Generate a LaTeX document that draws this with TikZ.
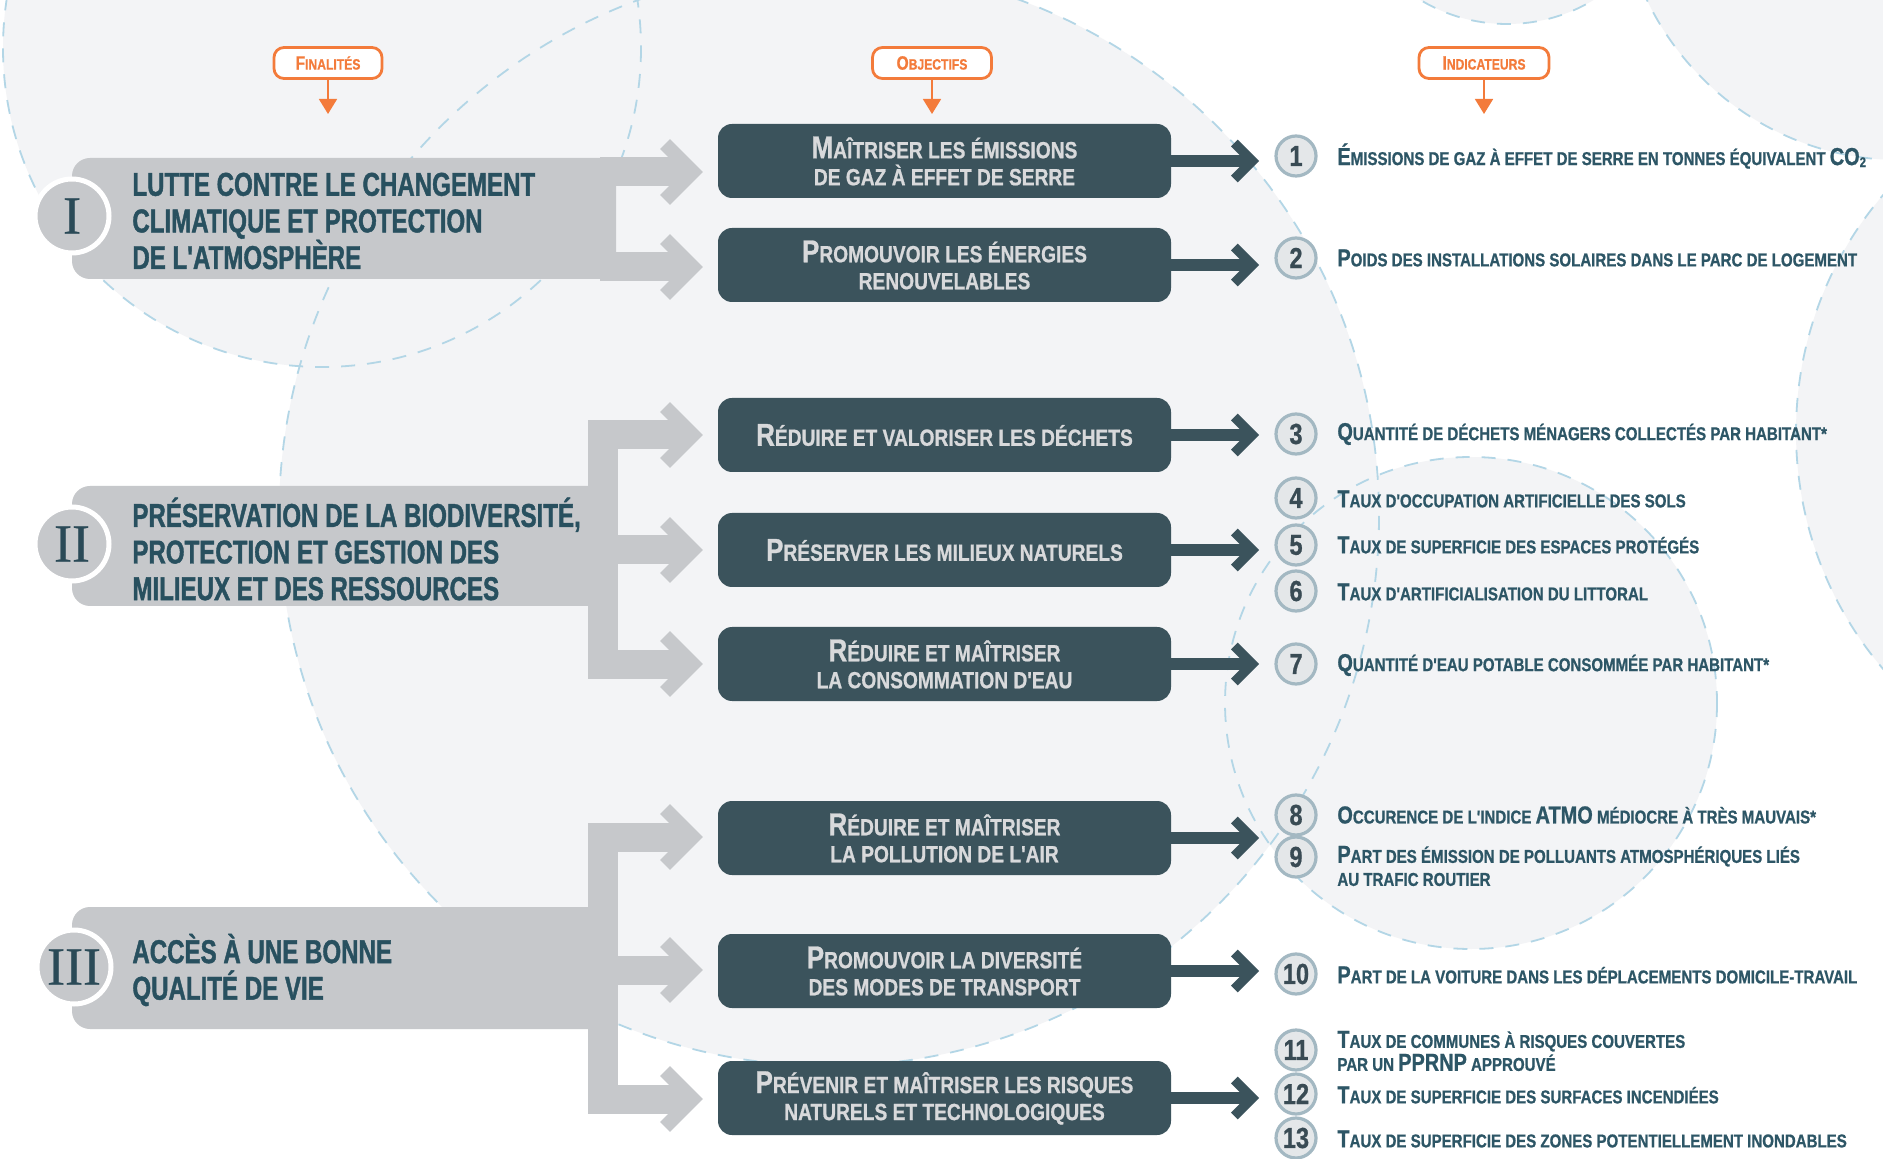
\documentclass[tikz,border=0pt]{standalone}
\usepackage{fontspec}
\usetikzlibrary{arrows.meta,calc}
\newfontfamily\cndF[FakeStretch=0.73,FakeBold=1.2]{Liberation Sans}
\newfontfamily\cndO[FakeStretch=0.82,FakeBold=0.8]{Liberation Sans}
\newfontfamily\cndI[FakeStretch=0.81,FakeBold=0.8]{Liberation Sans}
\newfontfamily\romf[FakeBold=0.6]{Liberation Serif}
\definecolor{barcol}{HTML}{C6C8CB}
\definecolor{objcol}{HTML}{3B535C}
\definecolor{objtext}{HTML}{D8D9DB}
\definecolor{fintext}{HTML}{28505F}
\definecolor{indtext}{HTML}{2D5666}
\definecolor{numtext}{HTML}{394B54}
\definecolor{numring}{HTML}{A3B8C2}
\definecolor{numfill}{HTML}{E4E7E9}
\definecolor{orangec}{HTML}{F37B3B}
\definecolor{bgcirc}{HTML}{F3F4F6}
\definecolor{dashc}{HTML}{B3D6E6}
\definecolor{romcol}{HTML}{2A4A57}
\newcommand\oB[1]{{\fontsize{15.8}{13.5}\selectfont #1}}
\newcommand\iB[1]{{\fontsize{12.3}{11.5}\selectfont #1}}
\newcommand\hB[1]{{\fontsize{9.6}{8}\selectfont #1}}
\begin{document}
\begin{tikzpicture}[x=0.5pt,y=-0.5pt,
  obj/.style={fill=objcol, rounded corners=7pt, minimum width=226.5pt, minimum height=37pt, inner sep=0pt, text=objtext, align=center, font=\cndO\bfseries\fontsize{11.7}{13.5}\selectfont},
  fin/.style={anchor=west, inner sep=0pt, text=fintext, align=left, font=\cndF\bfseries\fontsize{16.5}{18.3}\selectfont},
  ind/.style={anchor=west, inner sep=0pt, text=indtext, align=left, font=\cndI\bfseries\fontsize{9.3}{11.5}\selectfont},
  num/.style={circle, draw=numring, line width=1.6pt, fill=numfill, minimum size=20pt, inner sep=0pt, text=numtext, font=\cndI\bfseries\fontsize{14.5}{14}\selectfont},
  rom/.style={circle, fill=barcol, draw=white, line width=2.5pt, minimum size=37pt, inner sep=0pt, text=romcol, font=\romf\fontsize{27}{27}\selectfont},
  hdr/.style={draw=orangec, line width=1.4pt, rounded corners=5pt, fill=white, minimum height=15.5pt, inner sep=0pt, text=orangec, font=\cndI\bfseries\fontsize{7.5}{8}\selectfont},
  hdrarrow/.style={draw=orangec, line width=0.8pt, -{Triangle[width=9pt,length=7.5pt]}},
  gshaft/.style={draw=barcol, line width=14.5pt, shorten >=3.5pt},
  dshaft/.style={draw=objcol, line width=6pt, shorten >=1.5pt},
  gchev/.pic={\draw[barcol, line width=7pt] (-28,-28) -- (0,0) -- (-28,28);},
  dchev/.pic={\draw[objcol, line width=4.8pt] (-18,-18) -- (0,0) -- (-18,18);},
]
\path[use as bounding box] (0,0) rectangle (1883,1159);
\fill[white] (0,0) rectangle (1883,1159);
% background circles
\begin{scope}
\clip (0,0) rectangle (1883,1159);
\foreach \cx/\cy/\r in {322/48/319, 829/516/550, 1471/703/246, 1507/-144/168, 2162/432/366, 1900/-120/280}
  \fill[bgcirc] (\cx,\cy) circle[radius=\r];
\foreach \cx/\cy/\r in {322/48/319, 829/516/550, 1471/703/246, 1507/-144/168, 2162/432/366, 1900/-120/280}
  \draw[dashc, line width=0.9pt, dash pattern=on 7pt off 6pt] (\cx,\cy) circle[radius=\r];
\end{scope}

% headers
\node[hdr, minimum width=54pt] (h1) at (328,63) {\hB{F}INALITÉS};
\node[hdr, minimum width=59.5pt] (h2) at (932,63) {\hB{O}BJECTIFS};
\node[hdr, minimum width=65pt] (h3) at (1484,63) {\hB{I}NDICATEURS};
\coordinate (h1t) at (328,114);
\coordinate (h2t) at (932,114);
\coordinate (h3t) at (1484,114);
\draw[hdrarrow] (h1.south) -- (h1t);
\draw[hdrarrow] (h2.south) -- (h2t);
\draw[hdrarrow] (h3.south) -- (h3t);

% gray bars
\fill[barcol] (616,158) {[rounded corners=9pt] -- (72,158) -- (72,279)} -- (616,279) -- cycle;
\fill[barcol] (600,486) {[rounded corners=9pt] -- (72,486) -- (72,606)} -- (600,606) -- cycle;
\fill[barcol] (588,420.5) rectangle (618,678.5);
\fill[barcol] (600,907) {[rounded corners=9pt] -- (72,907) -- (72,1029)} -- (600,1029) -- cycle;
\fill[barcol] (588,822.5) rectangle (618,1113.5);

% gray branches
\foreach \n/\y in {a/172, b/267, c/435, d/550, e/664, f/837, g/970, h/1099} {
  \coordinate (gs\n) at (600,\y);
  \coordinate (gt\n) at (693,\y);
  \draw[gshaft] (gs\n) -- (gt\n);
  \pic at (gt\n) {gchev};
}

% roman numerals
\node[rom] (r1) at (72,216) {I};
\node[rom] (r2) at (72,544) {II};
\node[rom] (r3) at (74,967) {III};

% finalites
\node[fin] (f1) at (132,221) {LUTTE CONTRE LE CHANGEMENT\\CLIMATIQUE ET PROTECTION\\DE L'ATMOSPHÈRE};
\node[fin] (f2) at (132,549) {PRÉSERVATION DE LA BIODIVERSITÉ,\\PROTECTION ET GESTION DES\\MILIEUX ET DES RESSOURCES};
\node[fin] (f3) at (132,970) {ACCÈS À UNE BONNE\\QUALITÉ DE VIE};

% objectives
\node[obj] (o1) at (944.5,161) {\oB{M}AÎTRISER LES ÉMISSIONS\\DE GAZ À EFFET DE SERRE};
\node[obj] (o2) at (944.5,265) {\oB{P}ROMOUVOIR LES ÉNERGIES\\RENOUVELABLES};
\node[obj] (o3) at (944.5,435) {\oB{R}ÉDUIRE ET VALORISER LES DÉCHETS};
\node[obj] (o4) at (944.5,550) {\oB{P}RÉSERVER LES MILIEUX NATURELS};
\node[obj] (o5) at (944.5,664) {\oB{R}ÉDUIRE ET MAÎTRISER\\LA CONSOMMATION D'EAU};
\node[obj] (o6) at (944.5,838) {\oB{R}ÉDUIRE ET MAÎTRISER\\LA POLLUTION DE L'AIR};
\node[obj] (o7) at (944.5,971) {\oB{P}ROMOUVOIR LA DIVERSITÉ\\DES MODES DE TRANSPORT};
\node[obj] (o8) at (944.5,1098) {\oB{P}RÉVENIR ET MAÎTRISER LES RISQUES\\NATURELS ET TECHNOLOGIQUES};

% dark arrows
\foreach \i in {1,...,8} {
  \coordinate (dt\i) at ($(o\i.east)+(81,0)$);
  \draw[dshaft] (o\i.east) -- (dt\i);
  \pic at (dt\i) {dchev};
}

% numbers
\foreach \i/\y in {1/156, 2/258, 3/434, 4/498, 5/545, 6/591, 7/664, 8/815, 9/857, 10/974, 11/1050, 12/1094, 13/1138}
  \node[num] (n\i) at (1296,\y) {\i};

% indicators
\node[ind] (i1) at (1337,156) {\iB{É}MISSIONS DE GAZ À EFFET DE SERRE EN TONNES ÉQUIVALENT \iB{CO}\raisebox{-1pt}{\fontsize{7}{7}\selectfont 2}};
\node[ind] (i2) at (1337,258) {\iB{P}OIDS DES INSTALLATIONS SOLAIRES DANS LE PARC DE LOGEMENT};
\node[ind] (i3) at (1337,434) {\iB{Q}UANTITÉ DE DÉCHETS MÉNAGERS COLLECTÉS PAR HABITANT*};
\node[ind] (i4) at (1337,499) {\iB{T}AUX D'OCCUPATION ARTIFICIELLE DES SOLS};
\node[ind] (i5) at (1337,545) {\iB{T}AUX DE SUPERFICIE DES ESPACES PROTÉGÉS};
\node[ind] (i6) at (1337,592) {\iB{T}AUX D'ARTIFICIALISATION DU LITTORAL};
\node[ind] (i7) at (1337,665) {\iB{Q}UANTITÉ D'EAU POTABLE CONSOMMÉE PAR HABITANT*};
\node[ind] (i8) at (1337,815) {\iB{O}CCURENCE DE L'INDICE \iB{ATMO} MÉDIOCRE À TRÈS MAUVAIS*};
\node[ind] (i9) at (1337,866) {\iB{P}ART DES ÉMISSION DE POLLUANTS ATMOSPHÉRIQUES LIÉS\\AU TRAFIC ROUTIER};
\node[ind] (i10) at (1337,975) {\iB{P}ART DE LA VOITURE DANS LES DÉPLACEMENTS DOMICILE-TRAVAIL};
\node[ind] (i11) at (1337,1051) {\iB{T}AUX DE COMMUNES À RISQUES COUVERTES\\PAR UN \iB{PPRNP} APPROUVÉ};
\node[ind] (i12) at (1337,1095) {\iB{T}AUX DE SUPERFICIE DES SURFACES INCENDIÉES};
\node[ind] (i13) at (1337,1139) {\iB{T}AUX DE SUPERFICIE DES ZONES POTENTIELLEMENT INONDABLES};
\end{tikzpicture}
\end{document}
